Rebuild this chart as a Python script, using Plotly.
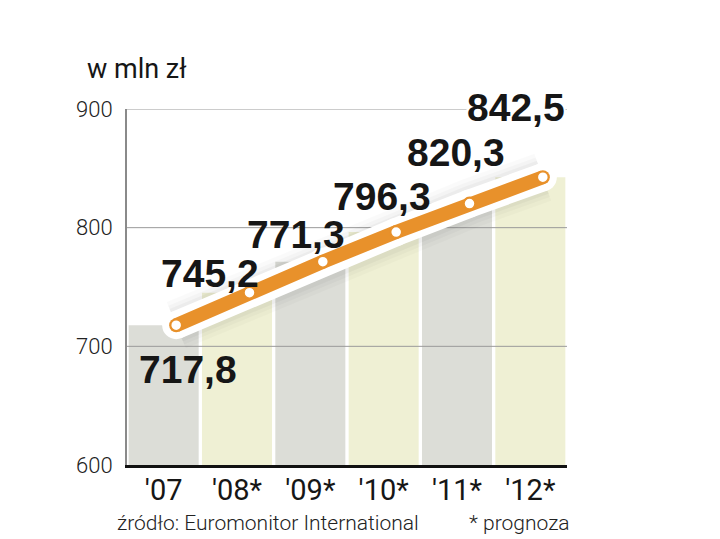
import plotly.graph_objects as go

years = ["'07", "'08*", "'09*", "'10*", "'11*", "'12*"]
values = [717.8, 745.2, 771.3, 796.3, 820.3, 842.5]
value_labels = ["717,8", "745,2", "771,3", "796,3", "820,3", "842,5"]
y_ticks = [600, 700, 800, 900]

title_text = "w mln zł"
source_text = "źródło: Euromonitor International"
note_text = "* prognoza"

GRAY_BAR = "#dcddd7"
YELLOW_BAR = "#eff0d4"
ORANGE = "#e8912b"
GRID = "#9a9a9a"

# page offset of the browser body margin
OFF = 8

n = len(years)
idx = list(range(n))
bar_colors = [GRAY_BAR if i % 2 == 0 else YELLOW_BAR for i in idx]

fig = go.Figure()

fig.add_trace(go.Bar(x=idx, y=values, marker=dict(color=bar_colors, line=dict(width=0)),
                     base=0, hoverinfo="skip", showlegend=False))

for t in y_ticks[1:]:
    fig.add_trace(go.Scatter(x=[-0.5, n - 0.5], y=[t, t], mode="lines",
                             line=dict(color=GRID, width=1), hoverinfo="skip",
                             showlegend=False))

for w, a in [(50, 0.018), (42, 0.022), (35, 0.03)]:
    fig.add_trace(go.Scatter(x=idx, y=values, xaxis="x2", yaxis="y", mode="lines",
                             line=dict(color=f"rgba(0,0,0,{a})", width=w),
                             hoverinfo="skip", showlegend=False))

fig.add_trace(go.Scatter(x=idx, y=values, xaxis="x2", yaxis="y", mode="lines+markers",
                         line=dict(color="white", width=28),
                         marker=dict(color="white", size=28, line=dict(width=0)),
                         hoverinfo="skip", showlegend=False))
fig.add_trace(go.Scatter(x=idx, y=values, xaxis="x2", yaxis="y", mode="lines+markers",
                         line=dict(color=ORANGE, width=14),
                         marker=dict(color=ORANGE, size=14, line=dict(width=0)),
                         hoverinfo="skip", showlegend=False))
fig.add_trace(go.Scatter(x=idx, y=values, xaxis="x2", yaxis="y", mode="markers",
                         marker=dict(color="white", size=11, line=dict(color=ORANGE, width=1.5)),
                         hoverinfo="skip", showlegend=False))

label_shifts = [(12, -44), (-40, 19), (-27, 27), (-14, 36), (-14, 51), (-27, 70)]
label_bg = [None, None, None, None, None, "white"]
annotations = []
for i, (v, txt) in enumerate(zip(values, value_labels)):
    dx, dy = label_shifts[i]
    ann = dict(x=i, y=v, xref="x2", yref="y", text=f"<b>{txt}</b>", showarrow=False,
               xshift=dx, yshift=dy, borderpad=0,
               font=dict(family="Liberation Sans, Arial, sans-serif", size=39, color="#161616"))
    if label_bg[i]:
        ann["bgcolor"] = label_bg[i]
    annotations.append(ann)

W, H = 720 - OFF, 539 - OFF
L, T = 127 - OFF, 109 - OFF
plot_right, plot_bottom = 567 - OFF, 465 - OFF
R, B = W - plot_right, H - plot_bottom
pw, ph = W - L - R, H - T - B

def px(x, y):
    return (x - OFF - L) / pw, 1 - (y - OFF - T) / ph

for (x, y, txt, anchor, fnt) in [
    (85, 69, title_text, "left", dict(family="Roboto", size=27, color="#161616")),
    (115, 523, source_text, "left", dict(family="Roboto", size=21, color="#222", weight=300)),
    (572, 523, note_text, "right", dict(family="Roboto", size=21, color="#222", weight=300)),
]:
    ax, ay = px(x, y)
    annotations.append(dict(x=ax, y=ay, xref="paper", yref="paper", text=txt,
                            showarrow=False, xanchor=anchor, yanchor="middle", font=fnt))

shift = 12.5 / (pw / n)

fig.update_layout(
    width=W, height=H,
    margin=dict(l=L, r=R, t=T, b=B),
    paper_bgcolor="white", plot_bgcolor="white",
    bargap=0.045,
    showlegend=False,
    annotations=annotations,
    xaxis=dict(range=[-0.5, n - 0.5], tickmode="array", tickvals=idx, ticktext=years,
               showgrid=False, zeroline=False, showline=True, linecolor="#111", linewidth=3,
               ticks="", ticklabelstandoff=-3,
               tickfont=dict(family="Roboto", size=29, color="#161616"),
               layer="above traces", fixedrange=True),
    xaxis2=dict(range=[-0.5 - shift, n - 0.5 - shift], overlaying="x", visible=False,
                fixedrange=True),
    yaxis=dict(range=[y_ticks[0], y_ticks[-1]], tickmode="array", tickvals=y_ticks,
               showgrid=False, zeroline=False, showline=True, linecolor="#8a8a8a",
               linewidth=2, ticks="", ticklabelstandoff=8,
               tickfont=dict(family="Roboto", size=22, color="#222", weight=300),
               fixedrange=True),
)

fig.write_html("out.html")
